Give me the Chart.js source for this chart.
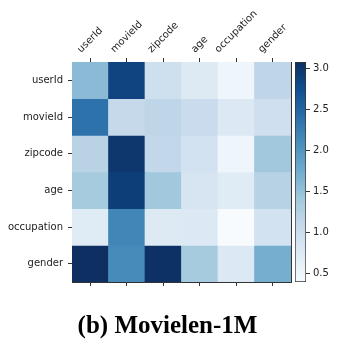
<!DOCTYPE html>
<html>
<head>
<meta charset="utf-8">
<script src="https://cdn.jsdelivr.net/npm/chart.js@4.4.1/dist/chart.umd.min.js"></script>
<style>
html,body{margin:0;padding:0;background:#fff;}
#wrap{position:relative;width:359px;height:344px;overflow:hidden;}
canvas{position:absolute;left:0;top:0;}
#legenda{position:absolute;left:0;width:335px;top:312px;text-align:center;font:bold 25px "Liberation Serif",serif;line-height:25px;color:#000;}
</style>
</head>
<body>
<div id="wrap">
<canvas id="mapa" width="359" height="344" style="width:359px;height:344px"></canvas>
<canvas id="barra" width="359" height="344" style="width:359px;height:344px"></canvas>
<div id="legenda">(b) Movielen-1M</div>
</div>
<script>
// categorias (linhas e colunas do mapa)
const linhas = ['userId','movieId','zipcode','age','occupation','gender'];
const colunas = ['userId','movieId','zipcode','age','occupation','gender'];

// valores lidos por linha
const valUserId     = [1.57, 2.86, 0.97, 0.75, 0.52, 1.14];
const valMovieId    = [2.38, 1.09, 1.14, 1.04, 0.77, 0.96];
const valZipcode    = [1.20, 3.00, 1.12, 0.90, 0.51, 1.41];
const valAge        = [1.36, 2.92, 1.41, 0.85, 0.71, 1.22];
const valOccupation = [0.73, 2.17, 0.75, 0.77, 0.39, 0.90];
const valGender     = [3.08, 2.11, 3.06, 1.36, 0.77, 1.71];

// ticks da barra de cores
const barraTicks = [0.5, 1.0, 1.5, 2.0, 2.5, 3.0];

const matriz = [valUserId, valMovieId, valZipcode, valAge, valOccupation, valGender];
const todos = matriz.flat();
const vmin = Math.min(...todos), vmax = Math.max(...todos);

// mapa de cores "Blues" (um pouco dessaturado, como na figura)
const blues = [[247,251,255],[222,235,247],[198,219,239],[158,202,225],[107,174,214],[66,146,198],[33,113,181],[8,81,156],[8,48,107]]
  .map(c=>{const l = 0.299*c[0]+0.587*c[1]+0.114*c[2]; return c.map(v=>Math.round(v*0.86+l*0.14));});
function corBlues(t){
  t = Math.max(0, Math.min(1, t));
  const p = t*(blues.length-1), i = Math.min(Math.floor(p), blues.length-2), f = p-i;
  const a = blues[i], b = blues[i+1];
  return 'rgb('+a.map((v,k)=>Math.round(v+(b[k]-v)*f)).join(',')+')';
}

Chart.defaults.font.family = '"DejaVu Sans"';
Chart.defaults.font.size = 10;
Chart.defaults.color = '#222';

const corEixo = '#333';

// rótulos do topo, girados 45 graus e centrados no tick (como no matplotlib)
const rotulosTopo = {
  id:'rotulosTopo',
  afterDraw(chart){
    const c = chart.ctx, sx = chart.scales.x;
    c.save();
    c.font = '10px "DejaVu Sans"';
    c.fillStyle = '#222';
    c.textAlign = 'center'; c.textBaseline = 'middle';
    colunas.forEach((nome,i)=>{
      const w = c.measureText(nome).width, h = 11;
      const meia = (w+h)*Math.SQRT1_2/2;
      const px = sx.getPixelForValue(i);
      const py = sx.bottom - 4 - 3 - meia;
      c.save(); c.translate(px, py); c.rotate(-Math.PI/4); c.fillText(nome, 0, 0); c.restore();
    });
    c.restore();
  }
};

const datasets = linhas.map((nome,r)=>({
  label:nome,
  data: colunas.map(()=>[r-0.5, r+0.5]),
  backgroundColor: matriz[r].map(v=>corBlues((v-vmin)/(vmax-vmin))),
  borderWidth:0, grouped:false, barPercentage:1, categoryPercentage:1
}));

const gridEixo = {drawOnChartArea:false, tickLength:4, color:corEixo, offset:false};

new Chart(document.getElementById('mapa'), {
  type:'bar',
  data:{labels:colunas, datasets},
  options:{
    responsive:false, animation:false, devicePixelRatio:1,
    plugins:{legend:{display:false}, tooltip:{enabled:false}},
    scales:{
      x:{type:'category', position:'top', ticks:{display:false}, grid:gridEixo, border:{color:corEixo}, afterFit:s=>{s.height=62;}},
      x2:{type:'category', position:'bottom', ticks:{display:false}, grid:gridEixo, border:{color:corEixo}, afterFit:s=>{s.height=62;}},
      y:{type:'linear', position:'left', reverse:true, min:-0.5, max:5.5,
         afterBuildTicks:s=>{s.ticks = linhas.map((n,i)=>({value:i}));},
         ticks:{callback:v=>linhas[v], padding:5},
         grid:gridEixo, border:{color:corEixo}, afterFit:s=>{s.width=72;}},
      y2:{type:'linear', position:'right', min:-0.5, max:5.5, ticks:{display:false},
         grid:{drawOnChartArea:false, drawTicks:false}, border:{color:corEixo}, afterFit:s=>{s.width=68;}}
    }
  },
  plugins:[rotulosTopo]
});

// barra de cores
function gradiente(ctx){
  const chart = ctx.chart;
  if(!chart.chartArea) return corBlues(0.5);
  const sy = chart.scales.y;
  const g = chart.ctx.createLinearGradient(0, sy.getPixelForValue(vmin), 0, sy.getPixelForValue(vmax));
  blues.forEach((c,i)=>g.addColorStop(i/(blues.length-1), 'rgb('+c.join(',')+')'));
  return g;
}

new Chart(document.getElementById('barra'), {
  type:'bar',
  data:{labels:[''], datasets:[{data:[[vmin, vmax]], backgroundColor:gradiente, borderColor:corEixo, borderWidth:1, borderSkipped:false, barPercentage:1, categoryPercentage:1}]},
  options:{
    responsive:false, animation:false, devicePixelRatio:1,
    layout:{padding:{left:295, top:62, bottom:62, right:0}},
    plugins:{legend:{display:false}, tooltip:{enabled:false}},
    scales:{
      x:{display:false},
      y:{position:'right', min:vmin, max:vmax,
         afterBuildTicks:s=>{s.ticks = barraTicks.map(v=>({value:v}));},
         ticks:{callback:v=>v.toFixed(1), padding:3},
         grid:{drawOnChartArea:false, tickLength:4, color:corEixo},
         border:{display:false}, afterFit:s=>{s.width=53;}}
    }
  }
});
</script>
</body>
</html>
